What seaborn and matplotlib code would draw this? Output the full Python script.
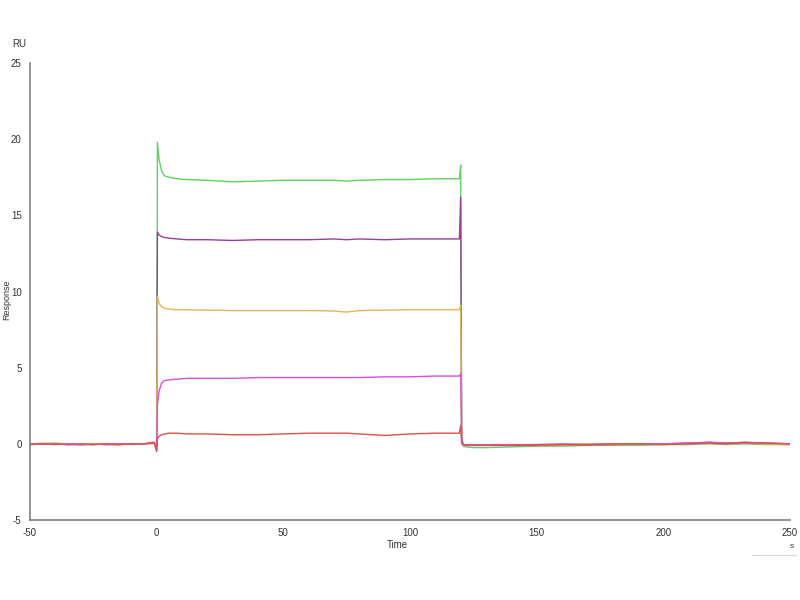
import numpy as np
import pandas as pd
import seaborn as sns
import matplotlib.pyplot as plt
from matplotlib.ticker import MultipleLocator

# time points (s)
time = [-50, -45, -40, -35, -30, -25, -20, -15, -10, -5, -1, 0, 0.3, 1, 2, 3, 5, 8, 12, 20,
        30, 40, 50, 60, 70, 75, 80, 90, 100, 110, 119.5, 120, 120.4, 121, 122, 125, 130, 140, 150, 160,
        170, 180, 190, 200, 210, 218, 225, 232, 240, 250]

# response (RU) per concentration
green = [-0.05, 0.0, 0.05, 0.0, -0.05, 0.0, -0.05, 0.0, -0.05, 0.0, 0.05, -0.3, 19.8, 18.6, 17.9, 17.6, 17.5, 17.4, 17.35, 17.3,
         17.2, 17.25, 17.3, 17.3, 17.3, 17.25, 17.3, 17.35, 17.35, 17.4, 17.4, 18.3, 0.2, -0.15, -0.2, -0.25, -0.25, -0.2, -0.15, -0.15,
         -0.1, -0.1, -0.1, -0.05, -0.05, 0.0, -0.05, 0.0, -0.05, -0.05]
purple = [0.0, 0.0, 0.0, -0.05, -0.05, 0.0, -0.05, -0.05, 0.0, 0.0, 0.1, -0.5, 13.9, 13.7, 13.6, 13.55, 13.5, 13.45, 13.4, 13.4,
          13.35, 13.4, 13.4, 13.4, 13.45, 13.4, 13.45, 13.4, 13.45, 13.45, 13.45, 16.2, 0.3, -0.05, -0.1, -0.1, -0.1, -0.1, -0.1, -0.05,
          -0.05, -0.05, 0.0, 0.0, 0.05, 0.1, 0.05, 0.1, 0.05, 0.0]
orange = [0.0, 0.05, 0.0, 0.0, -0.05, 0.0, 0.0, -0.05, 0.0, 0.0, 0.0, -0.2, 9.7, 9.2, 9.0, 8.9, 8.85, 8.8, 8.8, 8.78,
          8.75, 8.75, 8.75, 8.75, 8.72, 8.65, 8.75, 8.78, 8.8, 8.8, 8.8, 9.1, 0.1, -0.05, -0.1, -0.1, -0.1, -0.05, -0.05, -0.05,
          0.0, -0.05, 0.0, 0.0, 0.0, 0.05, 0.0, 0.05, 0.0, -0.05]
magenta = [0.0, 0.0, -0.05, 0.0, -0.05, -0.05, 0.0, 0.0, 0.0, 0.0, 0.05, -0.2, 2.6, 3.5, 4.0, 4.15, 4.2, 4.25, 4.3, 4.3,
           4.3, 4.35, 4.35, 4.35, 4.35, 4.35, 4.35, 4.4, 4.4, 4.45, 4.45, 4.6, 0.3, -0.05, -0.05, -0.05, -0.05, -0.05, -0.05, 0.0,
           -0.05, 0.0, 0.0, 0.0, 0.05, 0.1, 0.05, 0.05, 0.05, 0.0]
red = [-0.05, 0.0, 0.0, -0.05, 0.0, -0.05, 0.0, -0.05, 0.0, 0.0, 0.1, -0.4, 0.35, 0.5, 0.6, 0.65, 0.7, 0.7, 0.65, 0.65,
       0.6, 0.6, 0.65, 0.7, 0.7, 0.7, 0.65, 0.55, 0.65, 0.7, 0.7, 1.2, 0.0, -0.05, -0.1, -0.1, -0.1, -0.1, -0.05, -0.05,
       -0.05, 0.0, 0.0, -0.05, 0.0, 0.05, 0.0, 0.1, 0.05, 0.0]

series = {"green": green, "purple": purple, "orange": orange, "magenta": magenta, "red": red}
colors = {"green": "#5fd35f", "purple": "#9b3d9b", "orange": "#e6b450",
          "magenta": "#d94fd9", "red": "#e0504a"}

df = pd.concat([pd.DataFrame({"Time": time, "Response": v, "curve": k}) for k, v in series.items()])

sns.set_style("white")
plt.rcParams["font.family"] = ["Liberation Sans Narrow", "Liberation Sans", "DejaVu Sans"]
plt.rcParams["axes.unicode_minus"] = False
fig = plt.figure(figsize=(8, 6), dpi=100)
ax = fig.add_axes([0.0375, 0.1333, 0.95, 0.7617])

sns.lineplot(data=df, x="Time", y="Response", hue="curve", palette=colors,
             estimator=None, sort=False, linewidth=1.0, legend=False, ax=ax)

ax.set_xlim(-50, 250)
ax.set_ylim(-5, 25)
ax.xaxis.set_major_locator(MultipleLocator(50))
ax.xaxis.set_minor_locator(MultipleLocator(25))
ax.yaxis.set_major_locator(MultipleLocator(5))
ax.yaxis.set_minor_locator(MultipleLocator(2.5))
ax.tick_params(which="major", length=4, width=0.8, color="#606060", labelsize=7, labelcolor="#333333", pad=2)
ax.tick_params(which="minor", length=2, width=0.8, color="#606060")

sns.despine(ax=ax)
for s in ["left", "bottom"]:
    ax.spines[s].set_color("#808080")
    ax.spines[s].set_linewidth(1.2)

ax.set_xlabel("")
ax.set_ylabel("")
fig.text(0.015, 0.922, "RU", fontsize=7, color="#333333")
fig.text(0.008, 0.50, "Response", fontsize=6.5, rotation=90, va="center", ha="center", color="#333333")
fig.text(0.497, 0.087, "Time", fontsize=7, ha="center", color="#333333")
fig.text(0.993, 0.087, "s", fontsize=6, ha="right", color="#333333")
fig.add_artist(plt.Line2D([0.94, 0.995], [0.075, 0.075], color="#d8d8d8", linewidth=0.8))

plt.savefig("out.png", dpi=100)
